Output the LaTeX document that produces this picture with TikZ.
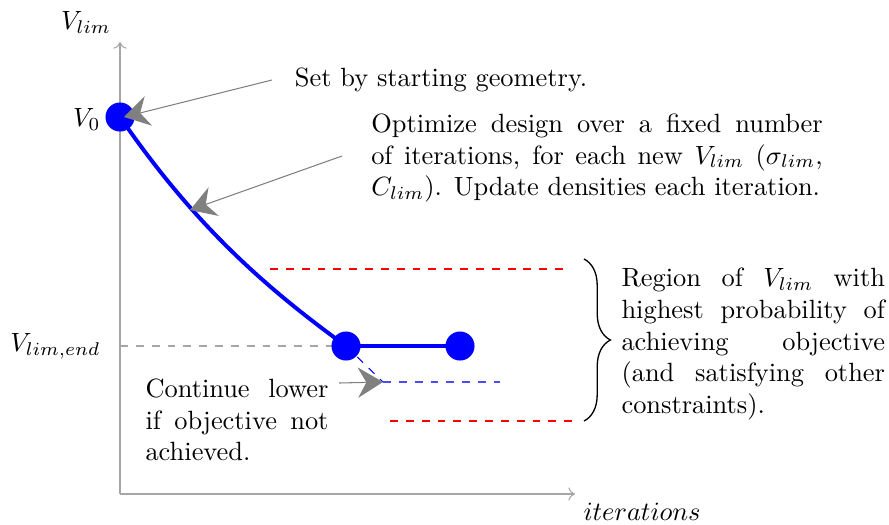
\documentclass[tikz,border=0pt]{standalone}
\usetikzlibrary{arrows.meta,decorations.pathreplacing}
\tikzset{
  axisline/.style={draw=gray!70, line width=0.4pt, -{To[length=2.5pt,width=5pt]}},
  ptdot/.style={circle, fill=blue, inner sep=0pt, minimum size=11pt},
  curveline/.style={draw=blue, line width=1.5pt},
  callout/.style={draw=gray, line width=0.4pt, -{Stealth[length=9.5pt,width=11.5pt,inset=3.2pt]}},
  lbl/.style={inner sep=0pt, align=left},
  jtext/.style={inner sep=0pt, align=justify},
}
\begin{document}
\begin{tikzpicture}[x=0.3788pt, y=-0.3788pt]
\useasboundingbox (0,0) rectangle (889,524);
% axes
\coordinate (O) at (120,494);
\coordinate (ytop) at (120,42);
\coordinate (xend) at (575,494);
\draw[axisline] (O) -- (ytop);
\draw[axisline] (O) -- (xend);
\node[lbl] (ylab) at (86,22) {$V_{lim}$};
\node[lbl, anchor=west] (xlab) at (583,512) {$iterations$};
% points
\coordinate (p0) at (120,117);
\coordinate (p1) at (346,346);
\coordinate (p2) at (460,346);
\node[lbl, anchor=east] (v0) at (101,119) {$V_0$};
\node[lbl, anchor=east] (vend) at (101,346) {$V_{lim,end}$};
% guide lines
\coordinate (gstart) at (120,346);
\draw[gray!70, dashed, line width=0.4pt] (gstart) -- (p1);
\coordinate (bcorner) at (383,382);
\coordinate (bend) at (500,382);
\draw[blue, dashed, line width=0.4pt] (p1) -- (bcorner);
\draw[blue!70, dashed, line width=0.6pt] (bcorner) -- (bend);
\coordinate (r1a) at (270,269);
\coordinate (r1b) at (567,269);
\coordinate (r2a) at (390,421);
\coordinate (r2b) at (575,421);
\draw[red, dashed, line width=0.5pt] (r1a) -- (r1b);
\draw[red, dashed, line width=0.5pt] (r2a) -- (r2b);
% curve
\draw[curveline] (p0) .. controls (195,226) and (266,288) .. (p1);
\draw[curveline] (p1) -- (p2);
\node[ptdot] (d0) at (p0) {};
\node[ptdot] (d1) at (p1) {};
\node[ptdot] (d2) at (p2) {};
% brace
\coordinate (bt) at (584,259);
\coordinate (bb) at (584,421);
\draw[decorate, decoration={brace, amplitude=10pt}, line width=0.5pt] (bt) -- (bb);
% texts
\node[lbl] (t1) at (441,80) {Set by starting geometry.};
\node[jtext, text width=171pt] (t2) at (597,158) {Optimize design over a fixed number of iterations, for each new $V_{lim}$ ($\sigma_{lim}$, $C_{lim}$). Update densities each iteration.};
\node[jtext, text width=99.8pt, anchor=west] (t3) at (621,344) {Region of $V_{lim}$ with highest probability of achieving objective (and satisfying other constraints).};
\node[jtext, text width=69.3pt] (t4) at (237,420) {Continue lower if objective not achieved.};
% callouts
\coordinate (a1s) at (272,80);
\coordinate (a1e) at (124,117);
\coordinate (a2s) at (342,156);
\coordinate (a2e) at (190,210);
\coordinate (a3s) at (339,383);
\draw[callout] (a1s) -- (a1e);
\draw[callout] (a2s) -- (a2e);
\draw[callout] (a3s) -- (bcorner);
\end{tikzpicture}
\end{document}
